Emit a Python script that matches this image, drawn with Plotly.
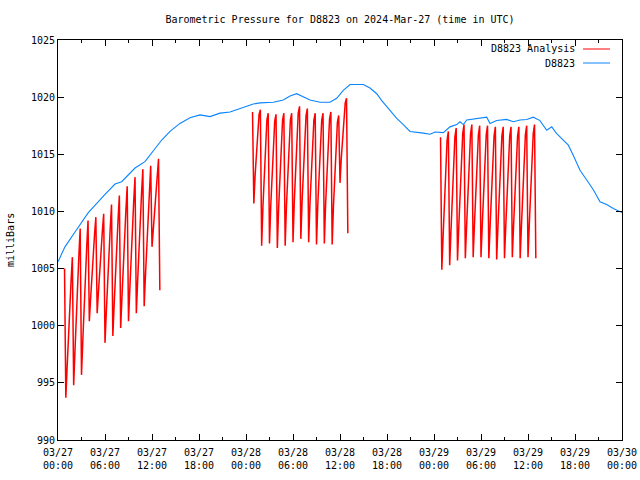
import pandas as pd
import plotly.graph_objects as go

# ---------------- data ----------------
title_text = "Barometric Pressure for D8823 on 2024-Mar-27 (time in UTC)"
y_label = "milliBars"
series_names = ["D8823 Analysis", "D8823"]

# Analysis runs: each day 00:50 -> 13:00 UTC at 10 minute steps
analysis_days = ["2024-03-27", "2024-03-28", "2024-03-29"]
analysis_start = "00:50"
analysis_end = "13:00"

analysis_day1 = [1005.0,
    993.7, 996.4, 999.2, 1001.7, 1003.9, 1006.0,
    994.8, 997.8, 1001.0, 1003.7, 1006.2, 1008.5,
    995.7, 998.7, 1001.8, 1004.5, 1006.9, 1009.2,
    1000.4, 1002.4, 1004.5, 1006.3, 1008.0, 1009.5,
    1001.1, 1003.0, 1005.0, 1006.8, 1008.3, 1009.8,
    998.5, 1001.2, 1004.0, 1006.4, 1008.5, 1010.6,
    999.1, 1001.8, 1004.6, 1007.1, 1009.3, 1011.4,
    999.8, 1002.5, 1005.4, 1007.9, 1010.1, 1012.2,
    1000.4, 1003.2, 1006.1, 1008.6, 1010.9, 1013.0,
    1001.1, 1003.9, 1006.8, 1009.3, 1011.6, 1013.7,
    1001.7, 1004.4, 1007.2, 1009.7, 1011.9, 1014.0,
    1006.9, 1008.6, 1010.4, 1011.9, 1013.3, 1014.6,
    1003.1]

analysis_day2 = [1018.7,
    1010.7, 1013.2, 1015.2, 1017.3, 1018.5, 1018.9,
    1007.0, 1010.5, 1013.4, 1016.3, 1018.0, 1018.6,
    1007.2, 1010.6, 1013.4, 1016.2, 1017.9, 1018.5,
    1006.8, 1010.3, 1013.3, 1016.2, 1018.0, 1018.6,
    1007.0, 1010.5, 1013.4, 1016.3, 1018.0, 1018.6,
    1007.3, 1010.9, 1013.8, 1016.8, 1018.6, 1019.2,
    1007.6, 1011.0, 1013.9, 1016.7, 1018.4, 1019.0,
    1007.3, 1010.7, 1013.5, 1016.3, 1018.0, 1018.6,
    1007.1, 1010.6, 1013.4, 1016.3, 1018.0, 1018.6,
    1007.2, 1010.7, 1013.5, 1016.4, 1018.1, 1018.7,
    1007.1, 1010.5, 1013.3, 1016.1, 1017.8, 1018.4,
    1012.5, 1014.7, 1016.6, 1018.4, 1019.5, 1019.9,
    1008.1]

analysis_day3 = [1016.5,
    1004.9, 1007.9, 1010.7, 1014.2, 1016.2, 1017.0,
    1005.3, 1008.3, 1011.1, 1014.5, 1016.5, 1017.3,
    1005.7, 1008.7, 1011.4, 1014.9, 1016.8, 1017.6,
    1005.9, 1008.8, 1011.5, 1014.9, 1016.8, 1017.6,
    1006.0, 1008.9, 1011.5, 1014.9, 1016.7, 1017.5,
    1006.0, 1008.9, 1011.5, 1014.9, 1016.7, 1017.5,
    1005.9, 1008.8, 1011.4, 1014.8, 1016.6, 1017.4,
    1005.8, 1008.7, 1011.4, 1014.7, 1016.6, 1017.4,
    1005.9, 1008.8, 1011.4, 1014.8, 1016.6, 1017.4,
    1006.0, 1008.9, 1011.5, 1014.8, 1016.6, 1017.4,
    1005.9, 1008.8, 1011.5, 1014.8, 1016.7, 1017.5,
    1006.0, 1008.9, 1011.6, 1014.9, 1016.8, 1017.6,
    1005.9]

# Observations: hours after 2024-03-27 00:00 UTC, and pressure
obs_hours = [0.0, 0.89, 2.17, 3.87, 6.0, 7.28, 8.13, 9.83, 11.1, 12.17,
             13.24, 14.3, 15.57, 16.85, 18.13, 19.4, 20.68, 21.96, 23.23,
             24.09, 24.93, 25.79, 27.49, 28.76, 29.62, 30.47, 31.32, 32.17,
             33.45, 34.72, 35.58, 36.42, 37.28, 38.98, 39.83, 40.69, 41.33,
             42.17, 43.24, 44.08, 44.94, 46.64, 47.49, 48.13, 49.19, 50.04,
             50.9, 51.32, 51.74, 52.18, 53.87, 54.73, 55.15, 56.0, 57.28,
             58.13, 58.98, 59.83, 60.68, 61.53, 62.39, 63.03, 63.67, 64.51,
             65.15, 65.79, 66.64, 67.5, 68.34, 69.19, 70.04, 70.89, 71.74, 72.0]
obs_values = [1005.6, 1006.9, 1008.2, 1009.9, 1011.5, 1012.4, 1012.6, 1013.8, 1014.35, 1015.3,
              1016.25, 1017.0, 1017.7, 1018.2, 1018.45, 1018.3, 1018.6, 1018.7, 1019.0,
              1019.2, 1019.4, 1019.5, 1019.55, 1019.75, 1020.1, 1020.3, 1020.0, 1019.75,
              1019.55, 1019.55, 1019.9, 1020.6, 1021.1, 1021.1, 1020.8, 1020.3, 1019.7,
              1019.0, 1018.15, 1017.6, 1017.0, 1016.85, 1016.75, 1016.95, 1016.9, 1017.4,
              1017.6, 1017.85, 1017.6, 1018.0, 1018.15, 1018.25, 1017.7, 1017.95, 1018.05,
              1017.85, 1018.0, 1018.05, 1018.25, 1017.95, 1017.1, 1017.4, 1016.8, 1016.25,
              1015.8, 1014.9, 1013.6, 1012.75, 1011.9, 1010.85, 1010.6, 1010.25, 1010.0, 1009.9]

x_tick_times = ["2024-03-27 00:00", "2024-03-27 06:00", "2024-03-27 12:00", "2024-03-27 18:00",
                "2024-03-28 00:00", "2024-03-28 06:00", "2024-03-28 12:00", "2024-03-28 18:00",
                "2024-03-29 00:00", "2024-03-29 06:00", "2024-03-29 12:00", "2024-03-29 18:00",
                "2024-03-30 00:00"]
x_tick_labels = ["03/27<br>00:00", "03/27<br>06:00", "03/27<br>12:00", "03/27<br>18:00",
                 "03/28<br>00:00", "03/28<br>06:00", "03/28<br>12:00", "03/28<br>18:00",
                 "03/29<br>00:00", "03/29<br>06:00", "03/29<br>12:00", "03/29<br>18:00",
                 "03/30<br>00:00"]
y_ticks = [990, 995, 1000, 1005, 1010, 1015, 1020, 1025]

# ---------------- build ----------------
red_x, red_y = [], []
for day, vals in zip(analysis_days, [analysis_day1, analysis_day2, analysis_day3]):
    times = pd.date_range(f"{day} {analysis_start}", f"{day} {analysis_end}", freq="10min")
    red_x += list(times)
    red_y += vals
    red_x.append(None)
    red_y.append(None)

t0 = pd.Timestamp("2024-03-27 00:00")
blue_x = [t0 + pd.to_timedelta(h, unit="h") for h in obs_hours]

FONT = "DejaVu Sans Mono"
RED = "#ff0000"
BLUE = "#0a84ff"

fig = go.Figure()
fig.add_trace(go.Scatter(x=red_x, y=red_y, mode="lines", name=series_names[0],
                         line=dict(color=RED, width=1.5), connectgaps=False))
fig.add_trace(go.Scatter(x=blue_x, y=obs_values, mode="lines", name=series_names[1],
                         line=dict(color=BLUE, width=1.1)))

fig.update_layout(
    width=640, height=480,
    autosize=False,
    margin=dict(l=58, r=18, t=40, b=40, autoexpand=False),
    paper_bgcolor="white", plot_bgcolor="white",
    showlegend=False,
    font=dict(family=FONT, size=10, color="black"),
    title=dict(text=title_text, x=0.5, xref="paper", xanchor="center",
               y=1 - 19 / 480, yref="container", yanchor="middle",
               font=dict(family=FONT, size=10, color="black")),
)
fig.update_xaxes(
    type="date",
    range=["2024-03-27 00:00", "2024-03-30 00:00"],
    tickmode="array", tickvals=x_tick_times, ticktext=x_tick_labels,
    ticks="inside", ticklen=6, tickcolor="black", tickwidth=1,
    minor=dict(ticks="inside", ticklen=3, dtick=3 * 3600 * 1000, tickcolor="black"),
    showline=True, linecolor="black", linewidth=1, mirror="allticks",
    showgrid=False, zeroline=False, automargin=False,
    ticklabelstandoff=3,
    tickfont=dict(family=FONT, size=10),
)
fig.update_yaxes(
    range=[990, 1025],
    tickmode="array", tickvals=y_ticks, ticktext=[str(v) for v in y_ticks],
    ticks="inside", ticklen=6, tickcolor="black", tickwidth=1,
    showline=True, linecolor="black", linewidth=1, mirror="allticks",
    showgrid=False, zeroline=False, automargin=False,
    tickfont=dict(family=FONT, size=10),
)

# y axis label
fig.add_annotation(text=y_label, xref="paper", yref="paper",
                   x=(10 - 58) / 564, y=(440 - 240) / 400, textangle=-90,
                   xanchor="center", yanchor="middle", showarrow=False,
                   font=dict(family=FONT, size=10, color="black"))

# gnuplot-style legend (text left of sample line)
legend_rows = [(series_names[0], RED, 49), (series_names[1], BLUE, 63)]
for name, col, ypx in legend_rows:
    yp = (440 - ypx) / 400
    fig.add_annotation(text=name, xref="paper", yref="paper",
                       x=(577 - 58) / 564, y=yp, xanchor="right", yanchor="middle",
                       showarrow=False, font=dict(family=FONT, size=10, color="black"))
    fig.add_shape(type="line", xref="paper", yref="paper",
                  x0=(583 - 58) / 564, x1=(610 - 58) / 564, y0=yp, y1=yp,
                  line=dict(color=col, width=1))

fig.write_html("out.html", config={"responsive": False, "displayModeBar": False},
               post_script="document.body.style.margin='0';document.body.style.overflow='hidden';")
